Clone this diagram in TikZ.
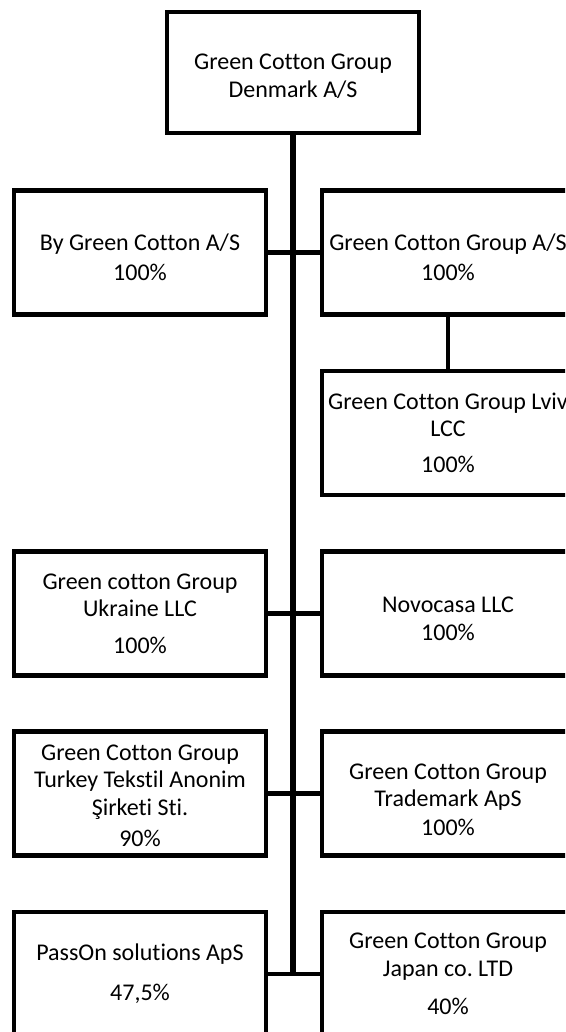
\documentclass[tikz,border=0pt]{standalone}
\usepackage{fontspec}
\setmainfont{Carlito}[Ligatures={NoCommon}]
\frenchspacing
\newcommand{\dn}[1]{\rule{0pt}{#1}}
\begin{document}
\begin{tikzpicture}[x=1pt,y=-1pt,
  org/.style={draw=black, line width=4.5pt, fill=white, minimum width=252pt,
    minimum height=124pt, inner sep=0pt, align=center,
    font=\fontsize{24}{27.5}\selectfont, text=black},
  link/.style={draw=black, line width=4.5pt},
  trunkline/.style={draw=black, line width=5.5pt}]
\useasboundingbox (0,0) rectangle (565,1032);
\clip (0,0) rectangle (565,1032);
\coordinate (trunkend) at (293,974);
\draw[trunkline] (293,72.5) -- (trunkend);
\node[org, minimum height=121pt] (top) at (293,72.5) {\dn{23pt}Green Cotton Group\\Denmark A/S};
\node[org] (bgc) at (140,252.5) {\dn{26pt}By Green Cotton A/S\\[2.5pt]100\%};
\node[org] (gcg) at (448,252.5) {\dn{26pt}Green Cotton Group A/S\\[2.5pt]100\%};
\node[org] (lviv) at (448,433) {Green Cotton Group Lviv\\LCC\\[8.5pt]100\%};
\node[org] (ukr) at (140,613.5) {Green cotton Group\\Ukraine LLC\\[9pt]100\%};
\node[org] (novo) at (448,613.5) {\dn{26pt}Novocasa LLC\\[1pt]100\%};
\node[org] (tur) at (140,793.5) {\dn{20pt}Green Cotton Group\\Turkey Tekstil Anonim\\Şirketi Sti.\\[3.5pt]90\%};
\node[org] (tm) at (448,793.5) {\dn{28pt}Green Cotton Group\\Trademark ApS\\[1pt]100\%};
\node[org] (pass) at (140,974) {PassOn solutions ApS\\[12.5pt]47,5\%};
\node[org] (jap) at (448,974) {Green Cotton Group\\Japan co. LTD\\[11pt]40\%};
\draw[link] (bgc.east) -- (gcg.west);
\draw[link] (gcg.south) -- (lviv.north);
\draw[link] (ukr.east) -- (novo.west);
\draw[link] (tur.east) -- (tm.west);
\draw[link] (pass.east) -- (jap.west);
\end{tikzpicture}
\end{document}
